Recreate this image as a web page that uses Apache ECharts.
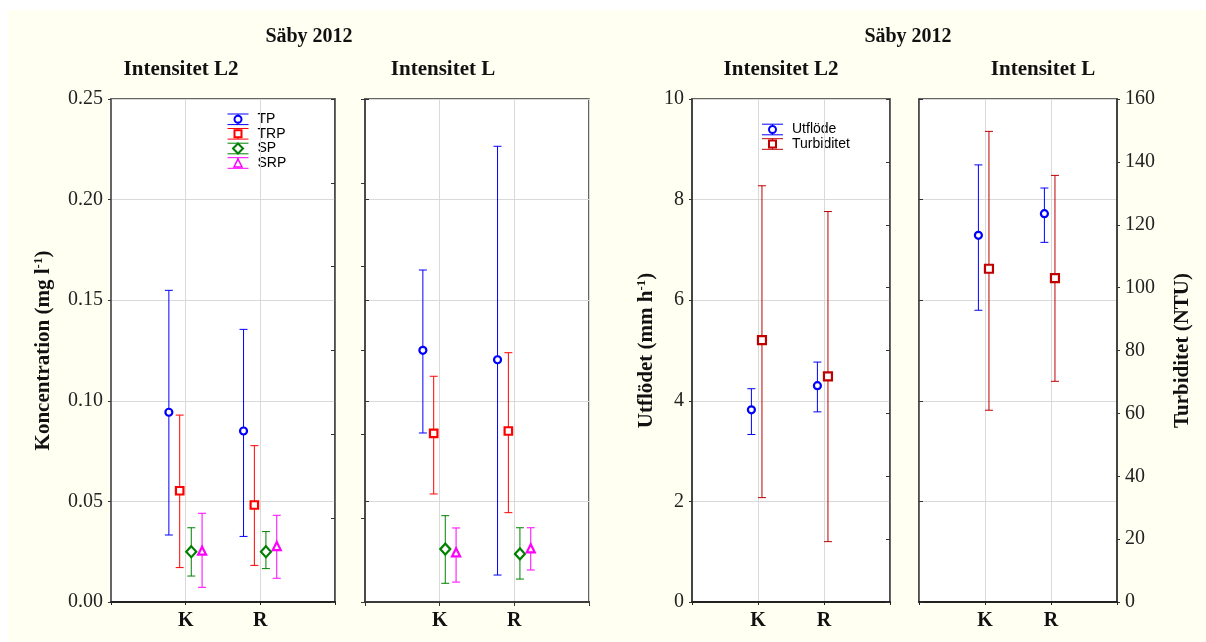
<!DOCTYPE html>
<html>
<head>
<meta charset="utf-8">
<title>Säby 2012</title>
<script src="https://cdn.jsdelivr.net/npm/echarts@6/dist/echarts.min.js"></script>
<style>
  html, body { margin: 0; padding: 0; background: #fff; }
  #wrap { position: relative; width: 1206px; height: 642px; }
  #bg { position: absolute; left: 8px; top: 10px; right: 0; bottom: 0; background: #fffff2; }
  #chart { position: absolute; left: 0; top: 0; width: 1206px; height: 642px; }
</style>
</head>
<body>
<div id="wrap">
  <div id="bg"></div>
  <div id="chart"></div>
</div>
<script>
const categories = ['K', 'R']

// Intensitet L2, koncentration (mg l-1)
const tpMeanL2 = [0.0943, 0.0850]
const tpLowL2 = [0.0333, 0.0326]
const tpHighL2 = [0.1549, 0.1355]
const trpMeanL2 = [0.0553, 0.0482]
const trpLowL2 = [0.0171, 0.0182]
const trpHighL2 = [0.0929, 0.0777]
const spMeanL2 = [0.0250, 0.0250]
const spLowL2 = [0.0129, 0.0166]
const spHighL2 = [0.0369, 0.0350]
const srpMeanL2 = [0.0255, 0.0278]
const srpLowL2 = [0.0073, 0.0118]
const srpHighL2 = [0.0441, 0.0431]

// Intensitet L, koncentration (mg l-1)
const tpMeanL = [0.1251, 0.1204]
const tpLowL = [0.0840, 0.0134]
const tpHighL = [0.1650, 0.2265]
const trpMeanL = [0.0838, 0.0850]
const trpLowL = [0.0537, 0.0444]
const trpHighL = [0.1122, 0.1239]
const spMeanL = [0.0263, 0.0239]
const spLowL = [0.0093, 0.0114]
const spHighL = [0.0429, 0.0369]
const srpMeanL = [0.0247, 0.0267]
const srpLowL = [0.0099, 0.0159]
const srpHighL = [0.0368, 0.0369]

// Utflöde (mm h-1) and turbiditet (NTU)
const utfMeanL2 = [3.82, 4.30]
const utfLowL2 = [3.33, 3.78]
const utfHighL2 = [4.24, 4.77]
const turbMeanL2 = [83.3, 71.8]
const turbLowL2 = [33.2, 19.2]
const turbHighL2 = [132.4, 124.2]
const utfMeanL = [7.29, 7.72]
const utfLowL = [5.80, 7.15]
const utfHighL = [8.69, 8.23]
const turbMeanL = [106.0, 103.0]
const turbLowL = [61.0, 70.2]
const turbHighL = [149.7, 135.7]

const serif = '"Liberation Serif", "Times New Roman", serif'
const sans = '"Liberation Sans", Arial, sans-serif'

const C_TP = '#0000ff'
const C_TRP = '#ff0000'
const C_SP = '#008000'
const C_SRP = '#ff00ff'
const C_TURB = '#c00000'

function errorSeries(name, color, symbol, size, mean, low, high, offset, xi, yi) {
  const xs = categories.map((c, i) => i + 1 + offset)
  return [{
    type: 'custom',
    name: name,
    xAxisIndex: xi,
    yAxisIndex: yi,
    silent: true,
    z: 2,
    encode: { x: 0, y: [1, 2] },
    data: xs.map((x, i) => [x, low[i], high[i]]),
    renderItem(params, api) {
      const lo = api.coord([api.value(0), api.value(1)])
      const hi = api.coord([api.value(0), api.value(2)])
      const w = 4
      const st = { stroke: color, lineWidth: 1 }
      return {
        type: 'group',
        children: [
          { type: 'line', shape: { x1: lo[0], y1: lo[1], x2: hi[0], y2: hi[1] }, style: st },
          { type: 'line', shape: { x1: lo[0] - w, y1: lo[1], x2: lo[0] + w, y2: lo[1] }, style: st },
          { type: 'line', shape: { x1: hi[0] - w, y1: hi[1], x2: hi[0] + w, y2: hi[1] }, style: st }
        ]
      }
    }
  }, {
    type: 'scatter',
    name: name,
    xAxisIndex: xi,
    yAxisIndex: yi,
    silent: true,
    z: 3,
    symbol: symbol,
    symbolSize: size,
    itemStyle: { color: '#fff', borderColor: color, borderWidth: 2.2, opacity: 1 },
    data: xs.map((x, i) => [x, mean[i]])
  }]
}

const off4 = [-0.225, -0.08, 0.075, 0.22]
const off2 = [-0.1, 0.06]

function xBottom(gi) {
  return {
    type: 'value', gridIndex: gi, min: 0, max: 3, interval: 1,
    axisLine: { show: true, lineStyle: { color: '#222', width: 2 } },
    axisTick: { show: true, length: 3, lineStyle: { color: '#222' } },
    axisLabel: {
      formatter: v => categories[Math.round(v) - 1] || '',
      fontFamily: serif, fontWeight: 'bold', fontSize: 20, color: '#111', margin: 9
    },
    splitLine: { show: true, lineStyle: { color: '#d9d9d9', width: 1 } }
  }
}

function yPlain(gi, pos, min, max, interval, inside, split) {
  return {
    type: 'value', gridIndex: gi, position: pos, min: min, max: max, interval: interval,
    axisLine: { show: true, lineStyle: { color: '#444', width: 1.5 } },
    axisTick: { show: true, inside: inside, length: 4, lineStyle: { color: '#333' } },
    axisLabel: { show: false },
    splitLine: { show: split, lineStyle: { color: '#d9d9d9', width: 1 } }
  }
}

const tickLabel = { fontFamily: serif, fontSize: 20, color: '#222', margin: 8 }
const nameStyle = {
  rich: {
    n: { fontFamily: serif, fontWeight: 'bold', fontSize: 21, color: '#111', lineHeight: 24 },
    s: { fontFamily: serif, fontWeight: 'bold', fontSize: 13, color: '#111', verticalAlign: 'top', lineHeight: 24 }
  }
}

const yAxis = [
  Object.assign(yPlain(0, 'left', 0, 0.25, 0.05, false, true), {
    axisLine: { show: true, lineStyle: { color: '#666', width: 2 } },
    axisTick: { show: true, length: 3, lineStyle: { color: '#333' } },
    axisLabel: Object.assign({ show: true, formatter: v => v.toFixed(2) }, tickLabel),
    name: '{n|Koncentration (mg l}{s|-1}{n|)}',
    nameLocation: 'middle', nameRotate: 90, nameGap: 55, nameTextStyle: nameStyle
  }),
  yPlain(0, 'right', 0, 6, 1, true, false),
  Object.assign(yPlain(1, 'left', 0, 0.25, 0.05, true, true), {
    axisLine: { show: true, lineStyle: { color: '#666', width: 2 } }
  }),
  yPlain(1, 'right', 0, 6, 1, true, false),
  Object.assign(yPlain(2, 'left', 0, 10, 2, false, true), {
    axisLine: { show: true, lineStyle: { color: '#444', width: 2 } },
    axisTick: { show: true, length: 3, lineStyle: { color: '#333' } },
    axisLabel: Object.assign({ show: true }, tickLabel),
    name: '{n|Utflödet (mm h}{s|-1}{n|)}',
    nameLocation: 'middle', nameRotate: 90, nameGap: 33, nameTextStyle: nameStyle
  }),
  yPlain(2, 'right', 0, 160, 20, true, false),
  yPlain(3, 'left', 0, 10, 2, true, true),
  Object.assign(yPlain(3, 'right', 0, 160, 20, false, false), {
    axisLine: { show: true, lineStyle: { color: '#444', width: 2 } },
    axisTick: { show: true, length: 3, lineStyle: { color: '#333' } },
    axisLabel: Object.assign({ show: true }, tickLabel),
    name: '{n|Turbiditet (NTU)}',
    nameLocation: 'middle', nameRotate: 90, nameGap: 54, nameTextStyle: nameStyle
  })
]

const xAxis = [
  xBottom(0), xBottom(1), xBottom(2), xBottom(3),
  {
    type: 'value', gridIndex: 1, position: 'top', min: 0, max: 3, interval: 1,
    axisLine: { show: true, lineStyle: { color: '#444', width: 1.5 } },
    axisTick: { show: true, inside: true, length: 4, lineStyle: { color: '#333' } },
    axisLabel: { show: false }, splitLine: { show: false }
  }
]

const series = [].concat(
  errorSeries('TP', C_TP, 'circle', 7, tpMeanL2, tpLowL2, tpHighL2, off4[0], 0, 0),
  errorSeries('TRP', C_TRP, 'rect', 7.5, trpMeanL2, trpLowL2, trpHighL2, off4[1], 0, 0),
  errorSeries('SP', C_SP, 'diamond', [10, 11], spMeanL2, spLowL2, spHighL2, off4[2], 0, 0),
  errorSeries('SRP', C_SRP, 'triangle', 8, srpMeanL2, srpLowL2, srpHighL2, off4[3], 0, 0),
  errorSeries('TP', C_TP, 'circle', 7, tpMeanL, tpLowL, tpHighL, off4[0], 1, 2),
  errorSeries('TRP', C_TRP, 'rect', 7.5, trpMeanL, trpLowL, trpHighL, off4[1], 1, 2),
  errorSeries('SP', C_SP, 'diamond', [10, 11], spMeanL, spLowL, spHighL, off4[2], 1, 2),
  errorSeries('SRP', C_SRP, 'triangle', 8, srpMeanL, srpLowL, srpHighL, off4[3], 1, 2),
  errorSeries('Utflöde', C_TP, 'circle', 7, utfMeanL2, utfLowL2, utfHighL2, off2[0], 2, 4),
  errorSeries('Turbiditet', C_TURB, 'rect', 8, turbMeanL2, turbLowL2, turbHighL2, off2[1], 2, 5),
  errorSeries('Utflöde', C_TP, 'circle', 7, utfMeanL, utfLowL, utfHighL, off2[0], 3, 6),
  errorSeries('Turbiditet', C_TURB, 'rect', 8, turbMeanL, turbLowL, turbHighL, off2[1], 3, 7)
)

// legend glyphs: error bar with marker in the middle
function legendItem(x, y, color, shape, label) {
  const st = { stroke: color, lineWidth: 1 }
  const ms = { fill: '#fff', stroke: color, lineWidth: 2 }
  let marker
  if (shape === 'circle') marker = { type: 'circle', shape: { cx: x, cy: y, r: 3.5 }, style: ms }
  else if (shape === 'rect') marker = { type: 'rect', shape: { x: x - 3.5, y: y - 3.5, width: 7, height: 7 }, style: ms }
  else if (shape === 'diamond') marker = { type: 'polygon', shape: { points: [[x, y - 5], [x + 5, y], [x, y + 5], [x - 5, y]] }, style: ms }
  else marker = { type: 'polygon', shape: { points: [[x, y - 4], [x + 4, y + 4], [x - 4, y + 4]] }, style: Object.assign({}, ms, { lineWidth: 1.5 }) }
  return [
    { type: 'line', shape: { x1: x - 10.5, y1: y - 5.3, x2: x + 10.5, y2: y - 5.3 }, style: st },
    { type: 'line', shape: { x1: x - 10.5, y1: y + 5.3, x2: x + 10.5, y2: y + 5.3 }, style: st },
    { type: 'line', shape: { x1: x, y1: y - 5.3, x2: x, y2: y + 5.3 }, style: st },
    marker,
    { type: 'text', x: x + 19.5, y: y, style: { text: label, font: '14px ' + sans, fill: '#000', align: 'left', verticalAlign: 'middle' } }
  ]
}

function title(text, x, y, size) {
  return {
    type: 'text', x: x, y: y,
    style: { text: text, font: 'bold ' + size + 'px ' + serif, fill: '#111', align: 'center', verticalAlign: 'middle' }
  }
}

const graphic = [].concat(
  title('Säby 2012', 309, 37, 20),
  title('Intensitet L2', 181, 70, 21),
  title('Intensitet L', 443, 70, 21),
  title('Säby 2012', 908, 37, 20),
  title('Intensitet L2', 781, 70, 21),
  title('Intensitet L', 1043, 70, 21),
  legendItem(238, 119.3, C_TP, 'circle', 'TP'),
  legendItem(238, 133.8, C_TRP, 'rect', 'TRP'),
  legendItem(238, 148.5, C_SP, 'diamond', 'SP'),
  legendItem(238, 163, C_SRP, 'triangle', 'SRP'),
  legendItem(772.5, 129.5, C_TP, 'circle', 'Utflöde'),
  legendItem(772.5, 144, C_TURB, 'rect', 'Turbiditet')
)

const chart = echarts.init(document.getElementById('chart'), null, { renderer: 'canvas' })
chart.setOption({
  backgroundColor: 'transparent',
  animation: false,
  grid: [
    { left: 111, top: 99, width: 224, height: 503, show: true, backgroundColor: '#fff', borderColor: '#333', borderWidth: 1.5 },
    { left: 365, top: 99, width: 224, height: 503, show: true, backgroundColor: '#fff', borderColor: '#333', borderWidth: 1.5 },
    { left: 692, top: 99, width: 198, height: 503, show: true, backgroundColor: '#fff', borderColor: '#333', borderWidth: 1.5 },
    { left: 919, top: 99, width: 198, height: 503, show: true, backgroundColor: '#fff', borderColor: '#333', borderWidth: 1.5 }
  ],
  xAxis: xAxis,
  yAxis: yAxis,
  series: series,
  graphic: graphic
})
</script>
</body>
</html>
